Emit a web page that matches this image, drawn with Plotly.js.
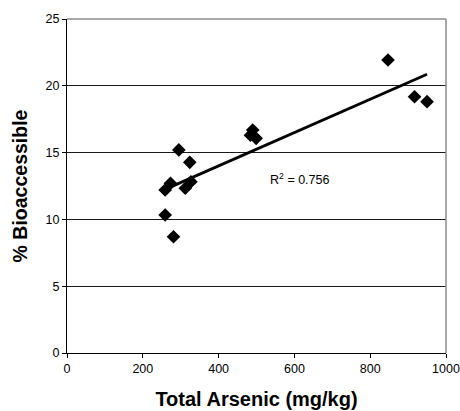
<!DOCTYPE html>
<html>
<head>
<meta charset="utf-8">
<script src="https://cdn.plot.ly/plotly-3.0.1.min.js"></script>
<style>html,body{margin:0;padding:0;background:#fff;}#chart{width:460px;height:411px;}</style>
</head>
<body>
<div id="chart"></div>
<script>
// Data
var totalArsenic = [847, 917, 950, 490, 484, 499, 295, 324, 327, 312, 273, 259, 259, 281];
var bioaccessible = [21.93, 19.18, 18.81, 16.69, 16.3, 16.07, 15.2, 14.27, 12.82, 12.33, 12.7, 12.2, 10.33, 8.7];
var xTickVals = [0, 200, 400, 600, 800, 1000];
var yTickVals = [0, 5, 10, 15, 20, 25];
var r2Label = "R<sup>2</sup> = 0.756";

// least-squares linear trend line
var n = totalArsenic.length, mx = 0, my = 0;
for (var i = 0; i < n; i++) { mx += totalArsenic[i]; my += bioaccessible[i]; }
mx /= n; my /= n;
var sxy = 0, sxx = 0;
for (var i = 0; i < n; i++) { sxy += (totalArsenic[i]-mx)*(bioaccessible[i]-my); sxx += (totalArsenic[i]-mx)*(totalArsenic[i]-mx); }
var slope = sxy/sxx, icpt = my - slope*mx;
var xMin = Math.min.apply(null, totalArsenic), xMax = Math.max.apply(null, totalArsenic);
var trendX = [xMin, xMax];
var trendY = trendX.map(function(v){ return icpt + slope*v; });

var font = "Liberation Sans, Arial, sans-serif";
var data = [
  {x: trendX, y: trendY, mode: 'lines', type: 'scatter', line: {color: '#000', width: 2.8}, hoverinfo: 'skip'},
  {x: totalArsenic, y: bioaccessible, mode: 'markers', type: 'scatter',
   marker: {symbol: 'diamond', size: 10.5, color: '#000', line: {width: 0}}}
];
var layout = {
  width: 460, height: 411,
  margin: {l: 67, r: 14, t: 19, b: 58},
  showlegend: false,
  paper_bgcolor: '#fff', plot_bgcolor: '#fff',
  font: {family: font, color: '#000', size: 12.5},
  xaxis: {
    range: [0, 1000], tickvals: xTickVals, ticks: 'outside', ticklen: 4, tickcolor: '#000', tickwidth: 1,
    showline: true, linecolor: '#000', linewidth: 1, showgrid: false, zeroline: false,
    tickfont: {family: font, size: 12.5, color: '#000'}, fixedrange: true,
    title: {text: 'Total Arsenic (mg/kg)', font: {family: font, size: 20, weight: 700, color: '#000'}, standoff: 16}
  },
  yaxis: {
    range: [0, 25], tickvals: yTickVals, ticks: 'outside', ticklen: 4, tickcolor: '#000', tickwidth: 1,
    showline: true, linecolor: '#000', linewidth: 1, showgrid: true, gridcolor: '#1a1a1a', gridwidth: 1, zeroline: false,
    tickfont: {family: font, size: 12.5, color: '#000'}, fixedrange: true,
    title: {text: '% Bioaccessible', font: {family: font, size: 19.5, weight: 700, color: '#000'}, standoff: 12}
  },
  shapes: [
    {type: 'line', xref: 'paper', yref: 'paper', x0: 0, x1: 1, y0: 1, y1: 1, line: {color: '#8c8c8c', width: 1.5}, layer: 'above'},
    {type: 'line', xref: 'paper', yref: 'paper', x0: 1, x1: 1, y0: 0, y1: 1, line: {color: '#8c8c8c', width: 1.5}, layer: 'above'}
  ],
  annotations: [
    {x: 531, y: 13.0, xref: 'x', yref: 'y', text: r2Label, showarrow: false, xanchor: 'left', yanchor: 'middle',
     font: {family: font, size: 12.5, color: '#000'}}
  ]
};
Plotly.newPlot('chart', data, layout, {displayModeBar: false, staticPlot: true});
</script>
</body>
</html>
